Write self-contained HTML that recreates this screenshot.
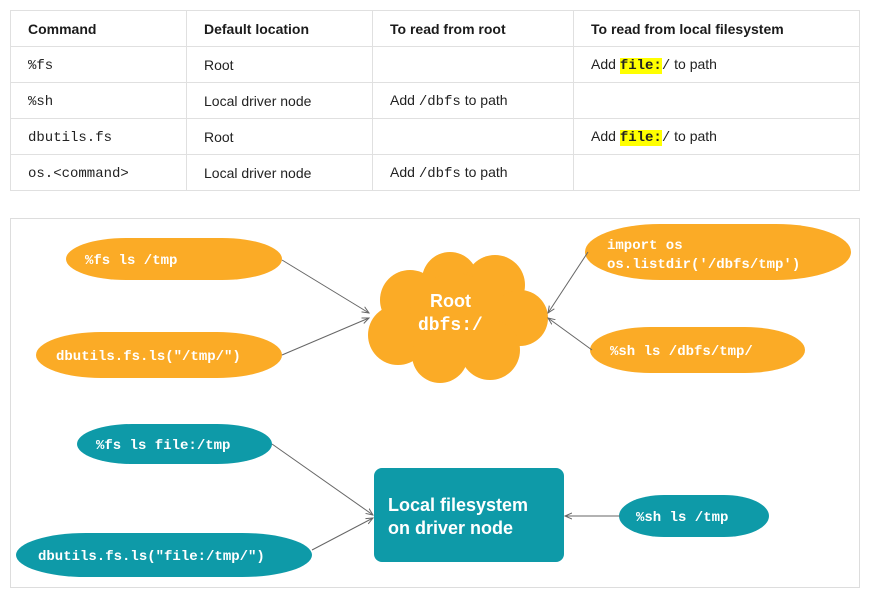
<!DOCTYPE html>
<html><head><style>
body{margin:0;width:879px;height:603px;background:#fff;font-family:"Liberation Sans",sans-serif;position:relative;overflow:hidden}
table{position:absolute;left:10px;top:10px;width:850px;border-collapse:collapse;font-size:14px;color:#222}
td,th{border:1px solid #e0e0e0;height:35px;padding:0 0 0 17px;text-align:left}
th{font-weight:bold;color:#1b1b1b}
code{font-family:"Liberation Mono",monospace;font-size:14px}
.hl{background:#ffff00;font-weight:bold}
</style></head><body>
<table>
<tr><th style="width:158px">Command</th><th style="width:168px">Default location</th><th style="width:183px">To read from root</th><th>To read from local filesystem</th></tr>
<tr><td><code>%fs</code></td><td>Root</td><td></td><td>Add <code class="hl">file:</code><code>/</code> to path</td></tr>
<tr><td><code>%sh</code></td><td>Local driver node</td><td>Add <code>/dbfs</code> to path</td><td></td></tr>
<tr><td><code>dbutils.fs</code></td><td>Root</td><td></td><td>Add <code class="hl">file:</code><code>/</code> to path</td></tr>
<tr><td><code>os.&lt;command&gt;</code></td><td>Local driver node</td><td>Add <code>/dbfs</code> to path</td><td></td></tr>
</table>
<svg width="879" height="603" style="position:absolute;left:0;top:0">
<defs><marker id="a" markerWidth="8" markerHeight="8" refX="7" refY="4" orient="auto"><path d="M0,1 L7,4 L0,7" fill="none" stroke="#666" stroke-width="1"/></marker></defs>
<rect x="10.5" y="218.5" width="849" height="369" fill="#fff" stroke="#ddd"/>
<g fill="#FBAB26">
<rect x="66" y="238" width="216" height="42" rx="60" ry="21"/>
<rect x="36" y="332" width="246" height="46" rx="65" ry="23"/>
<rect x="585" y="224" width="266" height="56" rx="75" ry="28"/>
<rect x="590" y="327" width="215" height="46" rx="60" ry="23"/>
<circle cx="410" cy="300" r="30"/><circle cx="450" cy="280" r="28"/><circle cx="495" cy="285" r="30"/>
<circle cx="520" cy="318" r="28"/><circle cx="398" cy="335" r="30"/><circle cx="440" cy="355" r="28"/>
<circle cx="490" cy="350" r="30"/><circle cx="455" cy="318" r="45"/>
</g>
<g fill="#0E9AA8">
<rect x="77" y="424" width="195" height="40" rx="55" ry="20"/>
<rect x="16" y="533" width="296" height="44" rx="70" ry="22"/>
<rect x="619" y="495" width="150" height="42" rx="45" ry="21"/>
<rect x="374" y="468" width="190" height="94" rx="8"/>
</g>
<g stroke="#666" stroke-width="1" marker-end="url(#a)">
<line x1="282" y1="260" x2="369" y2="313"/><line x1="282" y1="355" x2="369" y2="318"/>
<line x1="588" y1="252" x2="548" y2="313"/><line x1="592" y1="350" x2="548" y2="318"/>
<line x1="272" y1="444" x2="373" y2="515"/><line x1="312" y1="550" x2="373" y2="518"/>
<line x1="620" y1="516" x2="565" y2="516"/>
</g>
<g fill="#fff" font-family="Liberation Mono,monospace" font-size="14" font-weight="bold">
<text x="85" y="264">%fs ls /tmp</text>
<text x="56" y="360">dbutils.fs.ls("/tmp/")</text>
<text x="607" y="249">import os</text>
<text x="607" y="268">os.listdir('/dbfs/tmp')</text>
<text x="610" y="355">%sh ls /dbfs/tmp/</text>
<text x="96" y="449">%fs ls file:/tmp</text>
<text x="38" y="560">dbutils.fs.ls("file:/tmp/")</text>
<text x="636" y="521">%sh ls /tmp</text>
<text x="418" y="330" font-size="18">dbfs:/</text>
</g>
<g fill="#fff" font-weight="bold" font-size="18">
<text x="430" y="307">Root</text>
<text x="388" y="511">Local filesystem</text>
<text x="388" y="534">on driver node</text>
</g>
</svg>
</body></html>
